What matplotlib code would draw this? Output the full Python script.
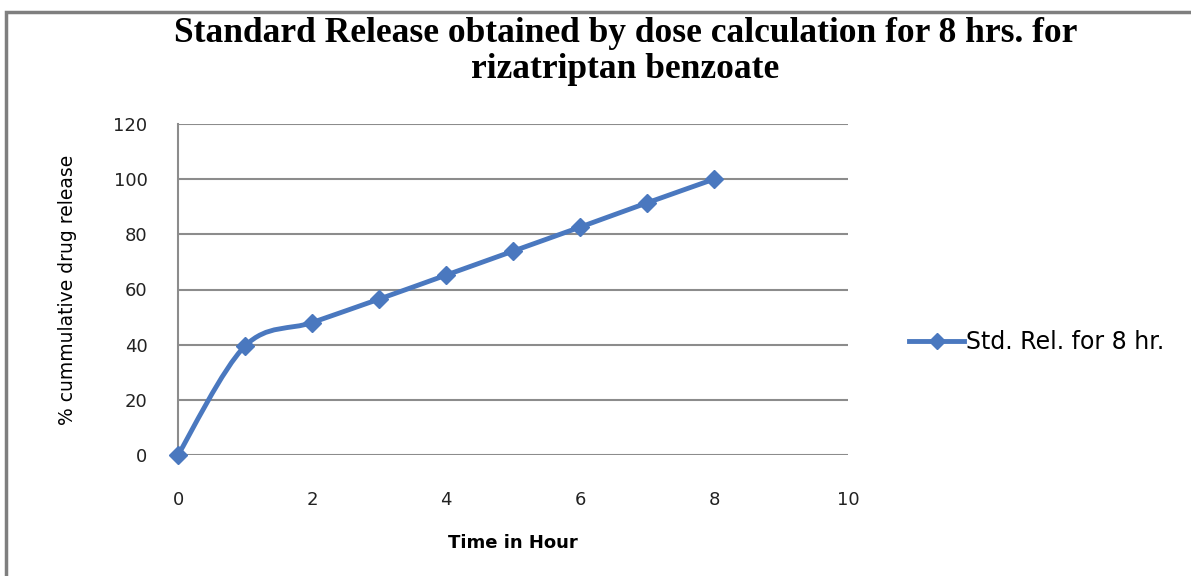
import numpy as np
import matplotlib.pyplot as plt
from matplotlib.path import Path
from matplotlib.patches import PathPatch, Rectangle
from matplotlib.lines import Line2D

# --------------------------------------------------
# Data
# --------------------------------------------------

hours = [0, 1, 2, 3, 4, 5, 6, 7, 8]
release = [0, 39.5, 48, 56.5, 65.2, 73.9, 82.6, 91.4, 100]

x_ticks = [0, 2, 4, 6, 8, 10]
y_ticks = [0, 20, 40, 60, 80, 100, 120]

TITLE = "Standard Release obtained by dose calculation for 8 hrs. for\nrizatriptan benzoate"
SERIES = "Std. Rel. for 8 hr."
BLUE = "#4a78bf"
GRID = "#8c8c8c"

# --------------------------------------------------
# Smooth path (Excel style bezier through the points)
# --------------------------------------------------

def smooth_path(xs, ys, t=1 / 6):
    pts = np.column_stack([xs, ys]).astype(float)
    verts = [pts[0]]
    codes = [Path.MOVETO]
    n = len(pts)
    for i in range(n - 1):
        p0 = pts[i - 1] if i > 0 else pts[i]
        p1 = pts[i]
        p2 = pts[i + 1]
        p3 = pts[i + 2] if i + 2 < n else pts[i + 1]
        c1 = p1 + (p2 - p0) * t
        c2 = p2 - (p3 - p1) * t
        verts += [c1, c2, p2]
        codes += [Path.CURVE4] * 3
    return Path(verts, codes)

# --------------------------------------------------
# Figure
# --------------------------------------------------

fig = plt.figure(figsize=(11.91, 5.76), dpi=100)
ax = fig.add_axes([178 / 1191, 1 - 455 / 576, 670 / 1191, 331 / 576])

fig.patches.append(
    Rectangle((6 / 1191, -0.01), 1.2, 1 - 12 / 576 + 0.01,
              transform=fig.transFigure, fill=False,
              edgecolor="#7f7f7f", linewidth=2.5)
)

ax.add_patch(
    PathPatch(smooth_path(hours, release), fill=False,
              edgecolor=BLUE, linewidth=3.5, capstyle="round")
)
ax.plot(hours, release, linestyle="none", marker="D",
        markersize=9, color=BLUE, clip_on=False, zorder=3)

ax.set_xlim(0, 10)
ax.set_ylim(0, 120)
ax.set_xticks(x_ticks)
ax.set_yticks(y_ticks)
ax.tick_params(length=0, labelsize=13, colors="#222222")
ax.tick_params(axis="x", pad=26)
ax.tick_params(axis="y", pad=22)

ax.grid(axis="y", color=GRID, linewidth=1.5)
ax.set_axisbelow(True)
for side in ["top", "right", "bottom"]:
    ax.spines[side].set_visible(False)
ax.spines["left"].set_color(GRID)
ax.spines["left"].set_linewidth(1.5)

ax.set_xlabel("Time in Hour", fontsize=13, fontweight="bold", labelpad=18)
ax.set_ylabel("% cummulative drug release", fontsize=13.5, labelpad=26)

fig.text(0.525, 1 - 17 / 576, TITLE, ha="center", va="top",
         fontsize=25.5, fontweight="bold", family="Liberation Serif",
         linespacing=1.12)

handle = Line2D([], [], color=BLUE, linewidth=3.5, marker="D", markersize=8)
fig.legend([handle], [SERIES], loc="center left",
           bbox_to_anchor=(900 / 1191, 1 - 342 / 576),
           frameon=False, fontsize=17, handlelength=2.3,
           handletextpad=0.1, borderaxespad=0)

fig.savefig("out.png", dpi=100)
